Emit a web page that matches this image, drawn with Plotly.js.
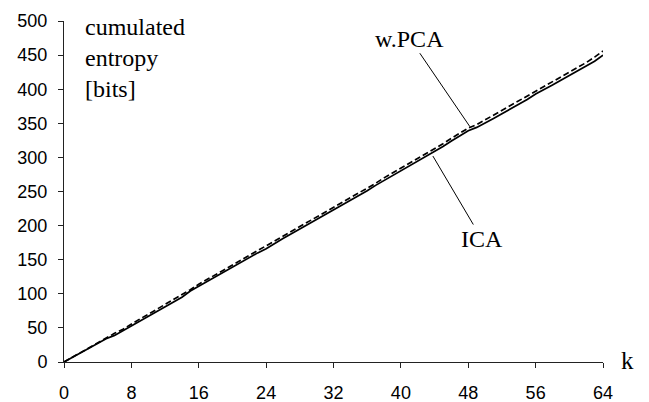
<!DOCTYPE html>
<html>
<head>
<meta charset="utf-8">
<script src="https://cdn.plot.ly/plotly-3.0.1.min.js"></script>
<style>html,body{margin:0;padding:0;background:#fff;}#chart{width:649px;height:402px;}</style>
</head>
<body>
<div id="chart"></div>
<script>
const k = [];
for (let i = 0; i <= 64; i++) k.push(i);

const icaValues = [0,7,14,20,27,34,39,46,54,60,68,75,82,88,95,104,111,118,126,132,140,147,153,160,166,174,181,188,195,201,209,216,223,230,237,244,251,259,266,273,280,288,295,302,309,316,324,331,339,344,350,357,364,371,377,385,393,399,406,413,420,426,434,441,450];
const pcaValues = [0,7,15,22,29,35,42,48,56,63,70,77,84,91,99,106,114,121,128,135,143,150,156,163,170,177,184,191,198,205,212,219,226,233,240,248,255,262,270,277,284,291,299,306,313,320,328,335,343,348,355,362,369,375,382,389,397,403,410,417,424,431,439,447,456];

const xTicks = [0,8,16,24,32,40,48,56,64];
const yTicks = [0,50,100,150,200,250,300,350,400,450,500];

const serif = 'Liberation Serif, Times New Roman, serif';
const sans = 'Liberation Sans, Arial, sans-serif';

const traces = [
  {x: k, y: pcaValues, type: 'scatter', mode: 'lines', name: 'w.PCA',
   line: {color: '#000', width: 1.7, dash: '6px,3px'}},
  {x: k, y: icaValues, type: 'scatter', mode: 'lines', name: 'ICA',
   line: {color: '#000', width: 1.7}}
];

const layout = {
  width: 649, height: 402,
  margin: {l: 64, r: 46, t: 21, b: 40},
  paper_bgcolor: '#fff', plot_bgcolor: '#fff',
  showlegend: false,
  xaxis: {
    range: [0, 64], tickvals: xTicks, ticktext: xTicks.map(String),
    showgrid: false, zeroline: false, showline: true, linecolor: '#222', linewidth: 1,
    ticks: 'outside', ticklen: 5, tickcolor: '#222', tickwidth: 1,
    tickfont: {family: sans, size: 18, color: '#000'}, ticklabelstandoff: 9
  },
  yaxis: {
    range: [0, 500], tickvals: yTicks, ticktext: yTicks.map(String),
    showgrid: false, zeroline: false, showline: true, linecolor: '#222', linewidth: 1,
    ticks: 'outside', ticklen: 5, tickcolor: '#222', tickwidth: 1,
    tickfont: {family: sans, size: 18, color: '#000'}, ticklabelstandoff: 7
  },
  annotations: [
    {xref: 'paper', yref: 'paper', x: 0.035, y: 1.025, xanchor: 'left', yanchor: 'top', align: 'left',
     text: 'cumulated<br>entropy<br>[bits]', showarrow: false,
     font: {family: serif, size: 24, color: '#000'}},
    {xref: 'paper', yref: 'paper', x: 1.03, y: 0.005, xanchor: 'left', yanchor: 'middle',
     text: 'k', showarrow: false, font: {family: serif, size: 25, color: '#000'}},
    {x: 48.2, y: 345, text: 'w.PCA', showarrow: true, arrowhead: 0, arrowwidth: 1, arrowcolor: '#000',
     ax: -60, ay: -88, font: {family: serif, size: 24, color: '#000'}},
    {x: 43.8, y: 302, text: 'ICA', showarrow: true, arrowhead: 0, arrowwidth: 1, arrowcolor: '#000',
     ax: 49, ay: 83, font: {family: serif, size: 24, color: '#000'}}
  ]
};

Plotly.newPlot('chart', traces, layout, {displayModeBar: false, staticPlot: true});
</script>
</body>
</html>
